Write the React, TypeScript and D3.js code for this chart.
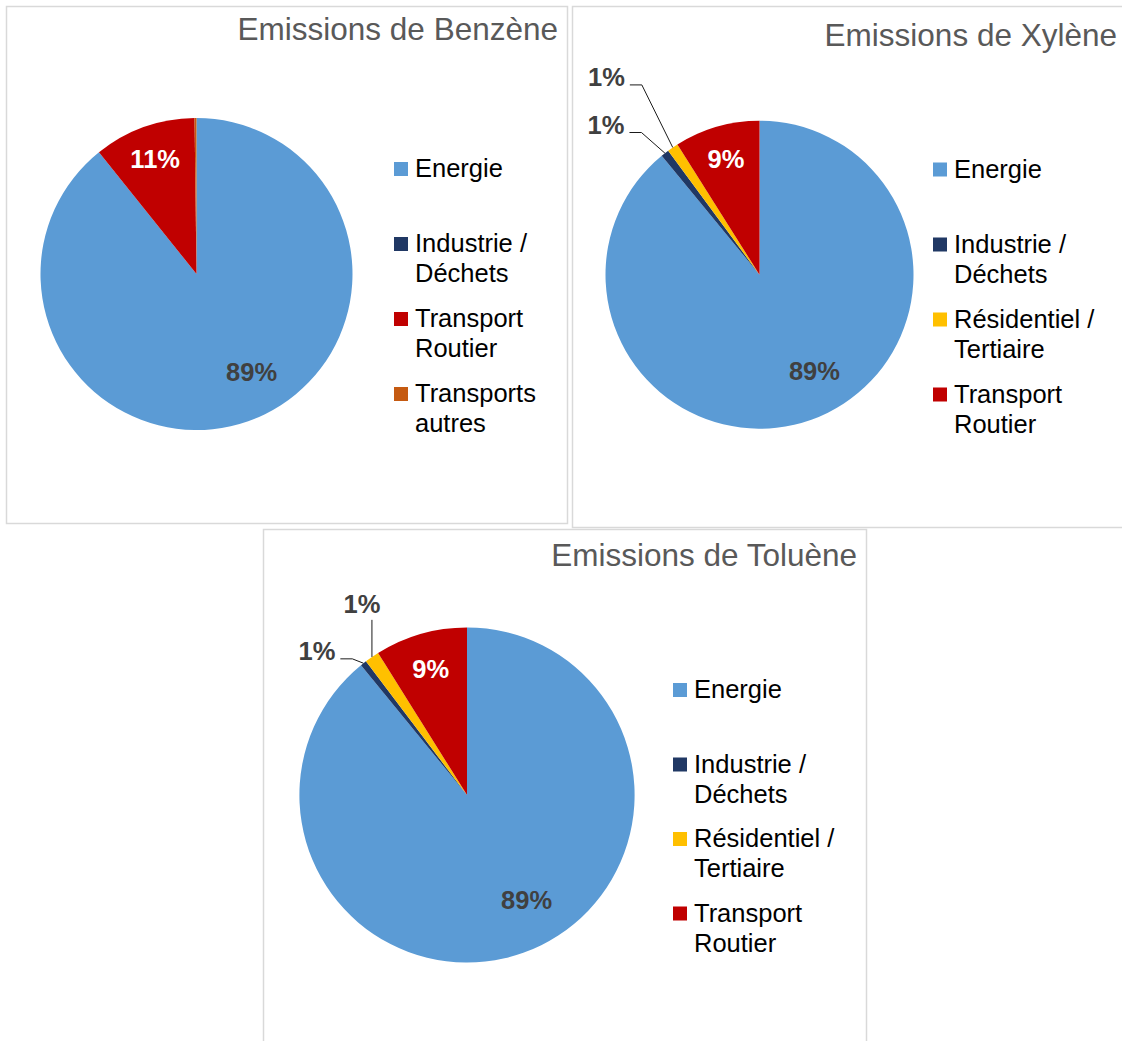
import React from "react";
import * as d3 from "d3";

// ---------- DATA ----------
const benzeneCategories = ["Energie", "Industrie / Déchets", "Transport Routier", "Transports autres"];
const benzeneValues = [89.25, 0, 10.55, 0.2];

const xyleneCategories = ["Energie", "Industrie / Déchets", "Résidentiel / Tertiaire", "Transport Routier"];
const xyleneValues = [89.05, 0.85, 1.15, 8.95];

const tolueneCategories = ["Energie", "Industrie / Déchets", "Résidentiel / Tertiaire", "Transport Routier"];
const tolueneValues = [89.1, 0.6, 1.4, 8.9];

const legendLines: Record<string, string[]> = {
  "Energie": ["Energie"],
  "Industrie / Déchets": ["Industrie /", "Déchets"],
  "Résidentiel / Tertiaire": ["Résidentiel /", "Tertiaire"],
  "Transport Routier": ["Transport", "Routier"],
  "Transports autres": ["Transports", "autres"],
};

const categoryColors: Record<string, string> = {
  "Energie": "#5B9BD5",
  "Industrie / Déchets": "#203864",
  "Résidentiel / Tertiaire": "#FFC000",
  "Transport Routier": "#C00000",
  "Transports autres": "#C55A11",
};

const FONT = "'Liberation Sans', Arial, Helvetica, sans-serif";

type Callout = { index: number; kind: "left" | "up"; angle?: number; rf: number };

type PieProps = {
  title: string;
  categories: string[];
  values: number[];
  box: [number, number, number, number];
  titleX: number;
  titleY: number;
  cx: number;
  cy: number;
  r: number;
  legendX: number;
  legendY: number;
  legendStep: number;
  callouts: Callout[];
};

function PieChart(p: PieProps) {
  const total = d3.sum(p.values);
  const pie = d3.pie<number>().sort(null).value((d) => d).startAngle(0).endAngle(2 * Math.PI);
  const arcs = pie(p.values);
  const arcGen = d3.arc<d3.PieArcDatum<number>>().innerRadius(0).outerRadius(p.r);
  const polar = (a: number, rad: number): [number, number] => [
    p.cx + rad * Math.sin(a),
    p.cy - rad * Math.cos(a),
  ];
  const maxIdx = d3.maxIndex(p.values);
  const labelFs = 25.5;

  const labels: React.ReactNode[] = [];
  arcs.forEach((a, i) => {
    const pct = Math.round((p.values[i] / total) * 100);
    if (pct < 1) return;
    const mid = (a.startAngle + a.endAngle) / 2;
    const co = p.callouts.find((c) => c.index === i);
    if (co) {
      const arcPt = polar(mid, p.r);
      if (co.kind === "left") {
        const el = polar(((co.angle as number) * Math.PI) / 180, co.rf * p.r);
        labels.push(
          <g key={"c" + i}>
            <polyline
              points={`${arcPt[0]},${arcPt[1]} ${el[0]},${el[1]} ${el[0] - 12},${el[1]}`}
              fill="none"
              stroke="#1a1a1a"
              strokeWidth={1}
            />
            <text x={el[0] - 17} y={el[1] + 1.5} textAnchor="end" fontFamily={FONT} fontWeight="bold"
              fontSize={labelFs} fill="#404040">{pct}%</text>
          </g>
        );
      } else {
        const ey = p.cy - co.rf * p.r;
        labels.push(
          <g key={"c" + i}>
            <line x1={arcPt[0]} y1={arcPt[1]} x2={arcPt[0]} y2={ey} stroke="#1a1a1a" strokeWidth={1} />
            <text x={arcPt[0] - 10} y={ey - 7} textAnchor="middle" fontFamily={FONT} fontWeight="bold"
              fontSize={labelFs} fill="#404040">{pct}%</text>
          </g>
        );
      }
      return;
    }
    const isMax = i === maxIdx;
    const ang = isMax ? mid - (10 * Math.PI) / 180 : mid;
    const pt = polar(ang, (isMax ? 0.72 : 0.785) * p.r);
    labels.push(
      <text key={"l" + i} x={pt[0]} y={pt[1] + 9} textAnchor="middle" fontFamily={FONT} fontWeight="bold"
        fontSize={labelFs} fill={isMax ? "#404040" : "#FFFFFF"}>{pct}%</text>
    );
  });

  const [bx0, by0, bx1, by1] = p.box;

  return (
    <g>
      <rect x={bx0} y={by0} width={bx1 - bx0} height={by1 - by0} fill="#FFFFFF" stroke="#D9D9D9" strokeWidth={1.5} />
      <text x={p.titleX} y={p.titleY} textAnchor="end" fontFamily={FONT} fontSize={31.5} fill="#595959">
        {p.title}
      </text>
      <g>
        {arcs.map((a, i) => (
          <path key={i} d={arcGen(a) || ""} transform={`translate(${p.cx},${p.cy})`} fill={categoryColors[p.categories[i]]} />
        ))}
      </g>
      {labels}
      <g>
        {p.categories.map((c, i) => {
          const by = p.legendY + i * p.legendStep;
          return (
            <g key={c}>
              <rect x={p.legendX} y={by - 15} width={14} height={14} fill={categoryColors[c]} />
              {legendLines[c].map((ln, j) => (
                <text key={j} x={p.legendX + 21} y={by + j * 30} fontFamily={FONT} fontSize={25.5} fill="#000000">
                  {ln}
                </text>
              ))}
            </g>
          );
        })}
      </g>
    </g>
  );
}

export default function App() {
  return (
    <div style={{ position: "absolute", left: 0, top: 0 }}>
      <svg width={1122} height={1041} style={{ display: "block" }}>
        <rect x={0} y={0} width={1122} height={1041} fill="#FFFFFF" />
        <PieChart
          title="Emissions de Benzène"
          categories={benzeneCategories}
          values={benzeneValues}
          box={[6.5, 6.5, 567.5, 523.5]}
          titleX={558}
          titleY={40}
          cx={196.5}
          cy={274}
          r={156}
          legendX={394}
          legendY={177}
          legendStep={75}
          callouts={[]}
        />
        <PieChart
          title="Emissions de Xylène"
          categories={xyleneCategories}
          values={xyleneValues}
          box={[572.5, 6.5, 1125, 527.5]}
          titleX={1117}
          titleY={46}
          cx={759.5}
          cy={274.7}
          r={154}
          legendX={933}
          legendY={177.5}
          legendStep={75}
          callouts={[
            { index: 2, kind: "left", angle: 328.2, rf: 1.45 },
            { index: 1, kind: "left", angle: 320.3, rf: 1.2 },
          ]}
        />
        <PieChart
          title="Emissions de Toluène"
          categories={tolueneCategories}
          values={tolueneValues}
          box={[263.5, 529.5, 866.5, 1045]}
          titleX={857}
          titleY={566}
          cx={467}
          cy={795}
          r={167.6}
          legendX={673}
          legendY={698}
          legendStep={74.5}
          callouts={[
            { index: 2, kind: "up", rf: 1.045 },
            { index: 1, kind: "left", angle: 319.9, rf: 1.062 },
          ]}
        />
      </svg>
    </div>
  );
}
